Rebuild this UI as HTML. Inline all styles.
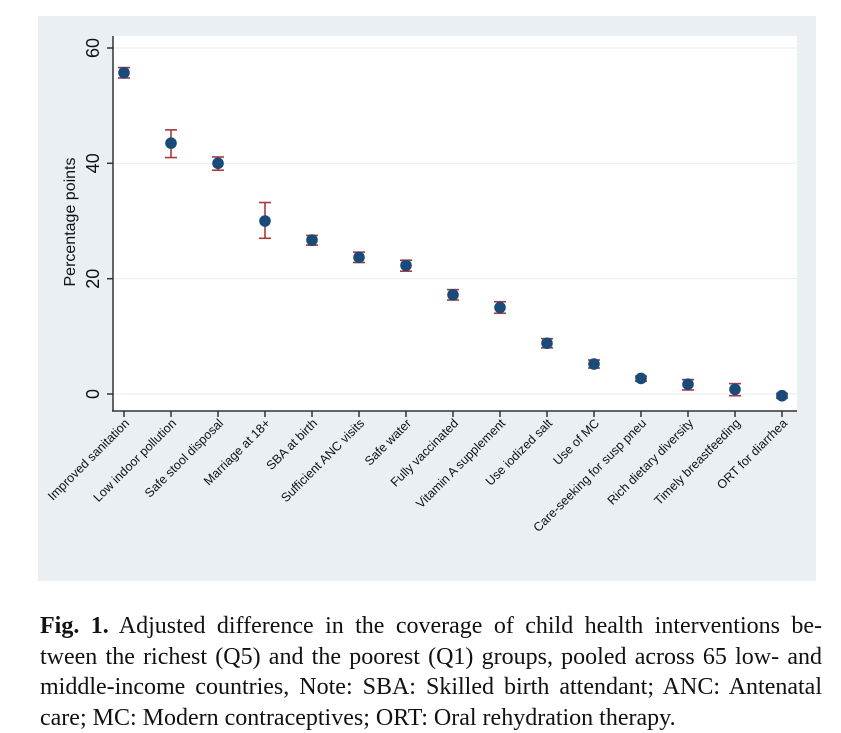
<!DOCTYPE html>
<html><head><meta charset="utf-8"><style>
body{margin:0;background:#fff;width:841px;height:732px;overflow:hidden}
.cap{position:absolute;left:40px;top:611px;width:782px;font-family:"Liberation Serif",serif;font-size:24px;line-height:30.5px;color:#111}
.cap div{text-align:justify;text-align-last:justify;white-space:nowrap}
.cap div.l{text-align-last:left}
</style></head><body>
<svg width="841" height="600" style="position:absolute;left:0;top:0" font-family="Liberation Sans, sans-serif">
<rect x="38" y="16" width="778" height="565" fill="#eaeff3"/>
<rect x="113" y="36" width="684" height="375" fill="#fff"/>
<g stroke="#eaeff3" stroke-width="1.2">
<line x1="113" x2="797" y1="48" y2="48"/><line x1="113" x2="797" y1="163.3" y2="163.3"/>
<line x1="113" x2="797" y1="278.7" y2="278.7"/><line x1="113" x2="797" y1="394" y2="394"/>
</g>
<g stroke="#333" stroke-width="1.5">
<line x1="113" y1="36" x2="113" y2="411"/><line x1="112" y1="411" x2="797" y2="411"/>
<line x1="107" x2="113" y1="48" y2="48"/><line x1="107" x2="113" y1="163.3" y2="163.3"/>
<line x1="107" x2="113" y1="278.7" y2="278.7"/><line x1="107" x2="113" y1="394" y2="394"/>
</g>
<g font-size="18" fill="#111" text-anchor="middle">
<text transform="translate(99,48) rotate(-90)">60</text>
<text transform="translate(99,163.3) rotate(-90)">40</text>
<text transform="translate(99,278.7) rotate(-90)">20</text>
<text transform="translate(99,394) rotate(-90)">0</text>
<text transform="translate(75,222) rotate(-90)" font-size="16">Percentage points</text>
</g>
<g id="pts"></g>
</svg>
<div class="cap"><div><b>Fig. 1.</b> Adjusted difference in the coverage of child health interventions be-</div><div>tween the richest (Q5) and the poorest (Q1) groups, pooled across 65 low- and</div><div>middle-income countries, Note: SBA: Skilled birth attendant; ANC: Antenatal</div><div class="l">care; MC: Modern contraceptives; ORT: Oral rehydration therapy.</div></div>
<script>
var d=[["Improved sanitation",55.7,54.8,56.6],["Low indoor pollution",43.5,41,45.8],["Safe stool disposal",40,38.8,41.1],["Marriage at 18+",30,27,33.2],["SBA at birth",26.7,25.8,27.5],["Sufficient ANC visits",23.7,22.8,24.6],["Safe water",22.3,21.3,23.2],["Fully vaccinated",17.2,16.3,18.1],["Vitamin A supplement",15,14,16],["Use iodized salt",8.8,8,9.6],["Use of MC",5.2,4.5,5.9],["Care-seeking for susp pneu",2.7,2.2,3.1],["Rich dietary diversity",1.7,0.7,2.5],["Timely breastfeeding",0.8,-0.3,1.8],["ORT for diarrhea",-0.3,-0.7,0.1]];
var s="";function y(v){return 394-5.767*v}
d.forEach(function(r,i){var x=124+47*i;
s+='<line x1="'+x+'" x2="'+x+'" y1="411" y2="417" stroke="#333" stroke-width="1.5"/>';
s+='<g stroke="#a83a3a" stroke-width="1.6"><line x1="'+x+'" x2="'+x+'" y1="'+y(r[2])+'" y2="'+y(r[3])+'"/><line x1="'+(x-6)+'" x2="'+(x+6)+'" y1="'+y(r[2])+'" y2="'+y(r[2])+'"/><line x1="'+(x-6)+'" x2="'+(x+6)+'" y1="'+y(r[3])+'" y2="'+y(r[3])+'"/></g>';
s+='<circle cx="'+x+'" cy="'+y(r[1])+'" r="5.8" fill="#1a4a7a"/>';
s+='<text font-size="12.5" fill="#111" text-anchor="end" transform="translate('+(x+6)+',424) rotate(-45)">'+r[0]+'</text>';});
document.getElementById("pts").innerHTML=s;
</script>
</body></html>
